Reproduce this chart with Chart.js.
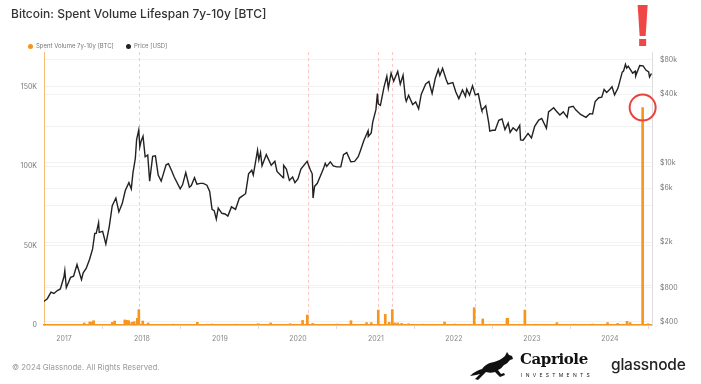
<!DOCTYPE html>
<html>
<head>
<meta charset="utf-8">
<script src="https://cdn.jsdelivr.net/npm/chart.js@4.4.1/dist/chart.umd.min.js"></script>
<style>
  body { margin: 0; background: #fff; font-family: Inter, "Open Sans", sans-serif; }
  #wrap { position: relative; width: 701px; height: 384px; overflow: hidden; }
  #chart { position: absolute; left: 0; top: 0; }
  .title { position: absolute; left: 11px; top: 6px; font-size: 12px; font-weight: 500; color: #333; }
  .legend { position: absolute; top: 42px; font-size: 6px; color: #777; }
  .legend i { display: inline-block; width: 5px; height: 5px; border-radius: 50%; margin-right: 3px; vertical-align: -0.5px; }
  .footer { position: absolute; left: 12px; top: 362px; font-size: 7.8px; color: #999; }
  .capriole { position: absolute; left: 520px; top: 350px; font-family: "DejaVu Serif", serif; font-weight: bold; font-size: 15px; color: #111; letter-spacing: -0.4px; }
  .invest { position: absolute; left: 521px; top: 372px; font-size: 5px; color: #222; letter-spacing: 3.3px; }
  .glass { position: absolute; left: 611px; top: 355px; font-size: 15.5px; font-weight: 500; color: #222; letter-spacing: -0.2px; }
  .horse { position: absolute; left: 468px; top: 350px; }
</style>
</head>
<body>
<div id="wrap">
  <canvas id="chart" width="701" height="384"></canvas>
  <div class="title">Bitcoin: Spent Volume Lifespan 7y-10y [BTC]</div>
  <div class="legend" style="left:28px"><i style="background:#f7931a"></i>Spent Volume 7y-10y [BTC]</div>
  <div class="legend" style="left:126px"><i style="background:#222"></i>Price [USD]</div>
  <div class="footer">© 2024 Glassnode. All Rights Reserved.</div>
  <svg class="horse" width="48" height="32" viewBox="0 0 48 32">
    <path d="M2 26 C6 22 10 20 14 19 C16 16 20 13 26 12 C30 11 34 9 37 6 L39 2 L41 5 L44 6 L45 9 L42 10 C40 12 39 14 36 15 C34 17 33 19 30 20 L33 24 L36 23 L37 25 L32 27 L27 22 C24 23 21 23 18 22 L14 26 L10 30 L7 29 L12 24 L8 25 Z" fill="#111"/>
  </svg>
  <div class="capriole">Capriole</div>
  <div class="invest">INVESTMENTS</div>
  <div class="glass">glassnode</div>
</div>
<script>
// price (right axis, log)
const priceDates = [
  '2016-09-28','2016-10-15','2016-11-01','2016-11-15','2016-12-01','2016-12-15',
  '2017-01-01','2017-01-05','2017-01-12','2017-02-01','2017-02-15','2017-03-03','2017-03-24','2017-04-01','2017-04-15',
  '2017-05-01','2017-05-15','2017-05-25','2017-06-01','2017-06-12','2017-06-15','2017-07-01','2017-07-16','2017-08-01',
  '2017-08-15','2017-09-01','2017-09-15','2017-10-01','2017-10-15','2017-11-01','2017-11-12','2017-11-20','2017-12-01',
  '2017-12-07','2017-12-17','2017-12-22','2017-12-28',
  '2018-01-06','2018-01-16','2018-01-28','2018-02-06','2018-02-20','2018-03-05','2018-03-18','2018-04-01','2018-04-24',
  '2018-05-05','2018-05-20','2018-06-01','2018-06-29','2018-07-10','2018-07-25','2018-08-11','2018-08-20','2018-09-04',
  '2018-09-15','2018-10-01','2018-10-15','2018-11-01','2018-11-14','2018-11-25','2018-12-05','2018-12-15','2018-12-24',
  '2019-01-10','2019-01-25','2019-02-07','2019-02-24','2019-03-15','2019-04-02','2019-04-15','2019-05-01','2019-05-15',
  '2019-05-30','2019-06-06','2019-06-26','2019-07-02','2019-07-10','2019-07-17','2019-08-06','2019-08-29','2019-09-15',
  '2019-09-25','2019-10-24','2019-10-26','2019-11-08','2019-11-22','2019-12-07','2019-12-18',
  '2020-01-01','2020-01-15','2020-02-13','2020-02-28','2020-03-08','2020-03-12','2020-03-19','2020-04-01','2020-04-29',
  '2020-05-08','2020-05-15','2020-06-01','2020-06-15','2020-07-01','2020-07-20','2020-08-02','2020-08-17','2020-09-05',
  '2020-09-23','2020-10-10','2020-10-21','2020-11-05','2020-11-25','2020-11-26','2020-12-10','2020-12-17',
  '2021-01-01','2021-01-08','2021-01-12','2021-01-22','2021-02-08','2021-02-21','2021-02-28','2021-03-13','2021-03-25',
  '2021-04-13','2021-04-25','2021-05-08','2021-05-19','2021-05-23','2021-06-03','2021-06-22','2021-07-06','2021-07-20',
  '2021-08-01','2021-08-22','2021-09-06','2021-09-21','2021-10-06','2021-10-20','2021-10-27','2021-11-09','2021-11-26',
  '2021-12-04','2021-12-27',
  '2022-01-10','2022-01-24','2022-02-10','2022-02-24','2022-03-02','2022-03-15','2022-03-29','2022-04-11','2022-04-25',
  '2022-05-09','2022-05-12','2022-05-30','2022-06-13','2022-06-18','2022-07-01','2022-07-13','2022-07-30','2022-08-14',
  '2022-08-28','2022-09-12','2022-09-21','2022-10-05','2022-10-21','2022-11-05','2022-11-09','2022-11-21','2022-12-14',
  '2022-12-30',
  '2023-01-14','2023-02-02','2023-02-16','2023-03-10','2023-03-20','2023-04-13','2023-04-26','2023-05-12','2023-05-28',
  '2023-06-15','2023-06-23','2023-07-13','2023-07-25','2023-08-17','2023-09-11','2023-09-29','2023-10-12','2023-10-24',
  '2023-11-10','2023-11-24','2023-12-05','2023-12-17',
  '2024-01-01','2024-01-11','2024-01-23','2024-02-08','2024-02-28','2024-03-05','2024-03-14','2024-03-20','2024-03-27',
  '2024-04-17','2024-04-29','2024-05-01','2024-05-20','2024-06-05','2024-06-18','2024-07-01','2024-07-05','2024-07-14'
];
const priceValues = [
  605,640,730,712,755,780,
  998,1130,800,985,1010,1280,940,1080,1180,
  1420,1750,2400,2400,2980,2450,2500,1930,2750,
  4200,4900,3700,4400,5700,6700,5900,8200,10900,
  16000,19400,13800,15500,
  17100,11300,11700,6900,11400,11500,7800,6900,9600,
  9800,8500,7500,5900,6400,8200,6100,6300,7400,
  6500,6600,6600,6350,5600,3900,3800,3200,4000,
  3600,3550,3400,4100,3900,4900,5100,5350,8000,
  8600,7800,12900,10600,12300,9400,11800,9500,10300,
  8400,7400,9500,8800,7000,7500,6700,
  7200,8800,10300,8700,8000,4900,6200,6600,8800,
  9900,9300,10200,9400,9200,9200,11800,12300,10200,
  10300,11300,12900,15600,19100,17000,18300,22800,
  29300,40600,33000,32000,46400,57500,45200,61200,52000,
  63500,49000,58800,37000,34700,39200,32500,34200,29800,
  39800,49300,51800,40600,55300,66000,58400,67500,53600,
  49400,50700,
  41800,36600,43600,38300,44400,39300,47400,39500,40400,
  30100,28900,31700,22400,19000,19300,19300,23600,24300,
  19600,22300,18500,20300,19100,21300,15900,15800,18100,
  16500,
  20900,23700,24500,20100,28000,30400,28400,26300,28000,
  25100,30700,31400,29200,26600,25100,27000,26800,34500,
  37300,37700,44000,41400,
  44200,46600,39500,45300,62500,63800,73100,67900,70600,
  61300,63800,57800,71400,71100,65200,62700,56700,60800
];

// spent volume 7y-10y (left axis), position in decimal years
const volumeYears = [
  2017.26,2017.33,2017.36,2017.38,2017.62,2017.65,2017.78,2017.81,2017.83,2017.87,2017.90,2017.94,2017.96,2018.01,2018.08,
  2018.40,2018.71,2018.90,2019.20,2019.49,2019.65,2019.90,2020.06,2020.12,2020.19,2020.50,2020.68,2020.88,2020.94,
  2021.03,2021.12,2021.17,2021.21,2021.24,2021.28,2021.33,2021.42,2021.60,2021.88,2022.01,2022.26,2022.37,2022.68,2022.69,
  2022.91,2023.05,2023.32,2023.55,2023.78,2023.97,2024.10,2024.22,2024.26,2024.42,2024.49
];
const volumeValues = [
  1300,1900,1900,2700,1700,2500,3200,2900,2700,1700,2100,4200,9700,2500,1300,
  500,1700,600,500,800,1300,800,2900,6300,1000,600,2700,1500,1500,
  9400,6700,1700,9700,1300,1300,1000,800,500,1900,600,10900,3800,4200,4200,
  9400,500,1500,500,600,1500,1000,2300,1500,137000,800
];

// vertical dashed markers
const markerYears = [2017.96, 2020.13, 2021.03, 2021.21, 2022.27, 2022.91];
const spikeIndex = volumeValues.indexOf(Math.max(...volumeValues));

const leftTicks = [0, 25000, 50000, 75000, 100000, 125000, 150000];
const rightTicks = [400, 800, 2000, 6000, 10000, 40000, 80000];
const yearTicks = [2017, 2018, 2019, 2020, 2021, 2022, 2023, 2024];

function toYear(s) {
    const d = new Date(s + 'T00:00:00Z');
    const y = d.getUTCFullYear();
    const start = Date.UTC(y, 0, 1), end = Date.UTC(y + 1, 0, 1);
    return y + (d.getTime() - start) / (end - start);
}

const priceData = priceDates.map((d, i) => ({ x: toYear(d), y: priceValues[i] }));
const volumeData = volumeYears.map((x, i) => ({ x: x, y: volumeValues[i] }));

const annotations = {
    id: 'annotations',
    beforeDatasetsDraw(chart) {
        const { ctx, chartArea } = chart;
        const x = chart.scales.x;
        ctx.save();
        ctx.strokeStyle = 'rgba(240,130,130,0.45)';
        ctx.lineWidth = 1;
        ctx.setLineDash([3, 3]);
        markerYears.forEach(m => {
            const px = Math.round(x.getPixelForValue(m)) + 0.5;
            ctx.beginPath();
            ctx.moveTo(px, chartArea.top);
            ctx.lineTo(px, chartArea.bottom);
            ctx.stroke();
        });
        ctx.restore();
    },
    afterDraw(chart) {
        const { ctx, chartArea } = chart;
        const cx = chart.scales.x.getPixelForValue(volumeYears[spikeIndex]);
        const cy = chart.scales.yVol.getPixelForValue(volumeValues[spikeIndex]);
        ctx.save();
        // circle
        ctx.strokeStyle = '#e8443e';
        ctx.lineWidth = 2;
        ctx.beginPath();
        ctx.arc(cx, cy, 13, 0, Math.PI * 2);
        ctx.stroke();
        // exclamation mark above the plot
        const top = chartArea.top - 47;
        ctx.fillStyle = '#f04646';
        ctx.beginPath();
        ctx.moveTo(cx - 5, top);
        ctx.lineTo(cx + 5, top);
        ctx.lineTo(cx + 3, top + 31);
        ctx.lineTo(cx - 3, top + 31);
        ctx.closePath();
        ctx.fill();
        ctx.fillRect(cx - 3.5, top + 34, 7, 7);
        ctx.restore();
    }
};

const chart = new Chart(document.getElementById('chart'), {
    type: 'bar',
    data: {
        datasets: [{
            type: 'line',
            label: 'Price [USD]',
            data: priceData,
            yAxisID: 'yPrice',
            borderColor: '#222',
            borderWidth: 1.4,
            pointRadius: 0,
            tension: 0,
            order: 1
        }, {
            type: 'bar',
            label: 'Spent Volume 7y-10y [BTC]',
            data: volumeData,
            yAxisID: 'yVol',
            backgroundColor: '#f7961f',
            barThickness: 2,
            grouped: false,
            order: 2
        }]
    },
    plugins: [annotations],
    options: {
        responsive: false,
        animation: false,
        devicePixelRatio: 1,
        layout: { padding: { top: 52, left: 0, right: 0, bottom: 0 } },
        plugins: { legend: { display: false }, tooltip: { enabled: false } },
        scales: {
            x: {
                type: 'linear',
                offset: false,
                min: 2016.744,
                max: 2024.54,
                afterFit(s) { s.height = 59; },
                afterBuildTicks(s) { s.ticks = yearTicks.map(v => ({ value: v })); },
                grid: { drawOnChartArea: false, tickLength: 4, color: '#ddd' },
                border: { color: '#f7961f', width: 1.5 },
                ticks: { color: '#888', font: { family: 'Inter', size: 7 }, padding: 6, callback: v => String(v) }
            },
            yVol: {
                type: 'linear',
                position: 'left',
                min: 0,
                max: 172000,
                afterFit(s) { s.width = 44; },
                afterBuildTicks(s) { s.ticks = leftTicks.map(v => ({ value: v })); },
                grid: { color: '#f1f1f1', drawTicks: false },
                border: { color: 'rgba(247,150,31,0.6)' },
                ticks: {
                    color: '#777', font: { family: 'Inter', size: 7 }, padding: 7,
                    callback: v => v % 50000 === 0 ? (v === 0 ? '0' : (v / 1000) + 'K') : ''
                }
            },
            yPrice: {
                type: 'logarithmic',
                position: 'right',
                min: 376,
                max: 94000,
                afterFit(s) { s.width = 49; },
                afterBuildTicks(s) { s.ticks = rightTicks.map(v => ({ value: v })); },
                grid: { color: '#f3f3f3', drawTicks: false },
                border: { color: '#ddd' },
                ticks: {
                    color: '#777', font: { family: 'Inter', size: 7 }, padding: 8,
                    callback: v => v >= 1000 ? '$' + (v / 1000) + 'k' : '$' + v
                }
            }
        }
    }
});
</script>
</body>
</html>
